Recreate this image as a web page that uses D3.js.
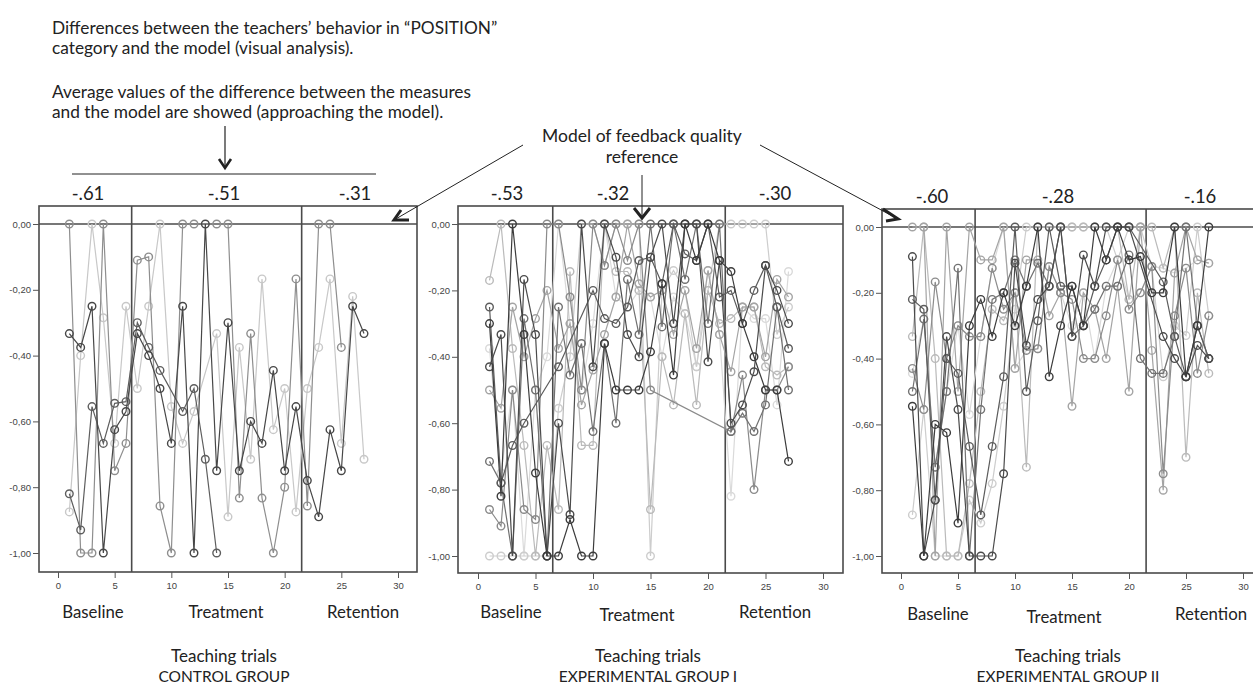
<!DOCTYPE html>
<html>
<head>
<meta charset="utf-8">
<script src="https://cdn.jsdelivr.net/npm/d3@7"></script>
<style>
  body { margin: 0; background: #fff; }
  svg { display: block; font-family: Lato, "Open Sans", sans-serif; }
  .tick text { font-family: "Liberation Sans", Arial, sans-serif; font-size: 9.5px; fill: #444; }
  .tick line { stroke: #555; }
</style>
</head>
<body>
<svg id="chart" width="1253" height="684"></svg>
<script>
// trial numbers on the x axis
let trials = [1, 2, 3, 4, 5, 6, 7, 8, 9, 10, 11, 12, 13, 14, 15, 16, 17, 18, 19, 20, 21, 22, 23, 24, 25, 26, 27];

// CONTROL GROUP: one row per teacher, lightest first
let controlSeries = [
    [-0.875, -0.40, 0, -0.285, -0.667, -0.25, -0.50, -0.25, 0, -0.555, -0.667, -0.57, null, -0.333, -0.89, -0.375, -0.715, -0.167, -0.625, -0.50, -0.875, -0.50, -0.375, -0.167, -0.667, -0.22, -0.715],
    [0, -1.0, -1.0, 0, -0.75, -0.667, -0.11, -0.10, -0.857, -1.0, 0, 0, null, 0, 0, -0.833, -0.333, -0.833, -1.0, -0.80, -0.167, -0.857, 0, 0, -0.375, null, null],
    [-0.82, -0.93, -0.555, -0.667, -0.545, -0.54, -0.30, -0.375, -0.445, null, -0.57, -0.50, -0.715, -1.0, null, null, null, null, null, null, null, null, null, null, null, null, null],
    [-0.333, -0.375, -0.25, -1.0, -0.625, -0.57, -0.333, -0.40, -0.50, -0.667, -0.25, -1.0, 0, -0.75, -0.30, -0.75, -0.60, -0.667, -0.445, -0.75, -0.555, -0.78, -0.89, -0.625, -0.75, -0.25, -0.333]
];
let controlShades = ['#c8c8c8', '#8e8e8e', '#5e5e5e', '#474747'];

// EXPERIMENTAL GROUP I
let exp1Series = [
    [-0.375, -0.75, -0.5, -1.0, -0.50, -0.40, 0, -0.30, -0.5, -0.3, 0, -0.22, -0.25, -0.2, -0.22, -0.40, -0.22, -0.27, -0.43, -0.14, -0.333, -0.82, -0.25, -0.285, -0.285, -0.545, -0.143],
    [-1.0, -1.0, -1.0, -1.0, -1.0, -1.0, -0.555, -0.40, 0, 0, -0.125, 0, 0, 0, -1.0, -0.20, -0.14, -0.20, -0.43, -0.20, 0, 0, 0, 0, 0, -0.333, -0.25],
    [-0.17, 0, -0.375, -0.667, -1.0, -0.667, -0.86, -0.143, -0.667, -0.667, 0, -0.143, -0.143, -0.20, -0.86, -0.40, -0.545, -0.27, -0.545, -0.20, -0.30, -0.285, -0.25, -0.25, -0.43, -0.455, -0.43],
    [-0.5, -0.555, -0.25, -0.40, -0.285, -0.20, -0.375, -0.30, -0.545, -0.44, -0.333, -0.22, 0, -0.18, -0.22, -0.20, -0.333, -0.20, -0.375, -0.14, -0.333, -0.445, -0.25, -0.25, -0.40, -0.167, -0.22],
    [-0.86, -0.91, -0.5, -0.86, -0.89, 0, 0, -0.22, -0.50, 0, -0.125, 0, -0.11, 0, -0.50, null, null, null, null, null, null, -0.625, -0.455, -0.80, -0.50, -0.50, -0.43],
    [-0.715, -0.78, -1.0, -0.285, -0.50, -1.0, -0.25, -0.455, -0.36, -0.625, -0.36, -0.60, -0.167, -0.333, 0, -0.31, 0, -0.167, 0, -0.30, 0, -0.625, -0.57, -0.625, -0.545, -0.25, -0.50],
    [-0.25, -0.78, -0.667, -0.60, null, null, -0.43, null, null, -0.20, -0.285, -0.30, -0.25, -0.11, -0.10, -0.18, 0, -0.09, -0.11, 0, -0.22, -0.20, -0.30, -0.20, -0.125, -0.25, -0.375],
    [-0.43, -0.333, -1.0, -0.167, -0.333, -1.0, -0.60, -0.875, 0, -0.43, 0, -0.10, -0.333, -0.40, -0.10, 0, -0.30, 0, 0, -0.415, -0.11, -0.60, -0.545, -0.445, -0.125, -0.20, -0.30],
    [-0.30, -0.82, 0, -0.333, -0.75, -1.0, -1.0, -0.89, -1.0, -1.0, -0.36, -0.50, -0.50, -0.50, -0.385, -0.18, -0.455, 0, -0.11, 0, -0.11, -0.143, -0.30, -0.40, -0.50, -0.50, -0.715]
];
let exp1Shades = ['#dadada', '#cdcdcd', '#bababa', '#a4a4a4', '#8a8a8a', '#707070', '#5c5c5c', '#4b4b4b', '#3c3c3c'];

// EXPERIMENTAL GROUP II
let exp2Series = [
    [-0.445, -0.28, -0.73, -0.50, -0.30, -0.57, -0.333, -0.125, 0, -0.43, -0.375, -0.37, -0.12, -0.20, -0.30, -0.20, -0.40, -0.18, -0.10, -0.22, -0.20, -0.12, -0.125, -0.14, -0.125, -0.10, -0.11],
    [-0.875, -0.555, -1.0, -1.0, -1.0, -0.83, -0.90, -0.78, -0.545, -0.25, 0, 0, 0, 0, 0, 0, 0, 0, -0.10, 0, 0, -0.12, -0.455, -0.30, -0.33, 0, -0.27],
    [-0.333, 0, -0.40, -1.0, -1.0, -0.78, -0.50, -0.25, -0.285, -0.20, -0.73, 0, 0, 0, 0, 0, 0, 0, 0, -0.22, 0, 0, -0.125, 0, -0.70, -0.20, -0.445],
    [0, 0, -1.0, 0, -0.50, 0, -0.10, -0.10, 0, -0.43, -0.10, -0.10, -0.27, -0.20, -0.545, -0.20, -0.25, -0.40, -0.18, -0.50, 0, -0.375, -0.80, -0.14, 0, -0.10, -0.11],
    [-0.43, -0.555, -0.167, -0.40, -0.30, -0.333, -0.333, -0.125, -0.25, -0.20, -0.375, -0.37, -0.12, -0.20, -0.22, -0.40, -0.40, -0.27, -0.10, -0.25, -0.20, -0.12, -0.75, -0.27, -0.125, -0.445, -0.27],
    [-0.50, -0.28, -0.73, -0.50, -0.125, -1.0, -0.555, -0.22, -0.20, -0.10, -0.18, -0.11, -0.18, 0, -0.333, -0.30, -0.25, -0.18, -0.18, -0.085, -0.40, -0.445, -0.445, -0.333, 0, -0.30, -0.40],
    [-0.22, -0.25, -0.83, -0.40, -0.445, -0.667, -0.875, -0.667, -0.455, 0, -0.50, -0.285, 0, -0.18, -0.18, -0.30, -0.18, -0.10, 0, 0, null, null, -0.167, -0.333, -0.455, -0.30, -0.40],
    [-0.09, -1.0, -0.83, -0.333, -0.555, -1.0, -1.0, -1.0, -0.75, -0.11, -0.36, -0.22, -0.18, 0, -0.333, -0.085, -0.18, 0, null, 0, null, null, -0.333, -0.40, -0.455, -0.36, -0.40],
    [-0.545, -1.0, -0.60, -0.625, -0.90, -0.30, -0.22, -0.333, -0.20, -0.30, -0.18, 0, -0.455, -0.30, -0.18, -0.30, 0, -0.10, 0, -0.10, -0.09, -0.20, -0.20, 0, -0.455, -0.30, 0]
];
let exp2Shades = ['#dadada', '#cdcdcd', '#bababa', '#a4a4a4', '#8c8c8c', '#727272', '#5c5c5c', '#4b4b4b', '#3c3c3c'];

// averages per phase, shown above each panel
let controlMeans = ['-.61', '-.51', '-.31'];
let exp1Means = ['-.53', '-.32', '-.30'];
let exp2Means = ['-.60', '-.28', '-.16'];

let phaseNames = ['Baseline', 'Treatment', 'Retention'];
let phaseBreaks = [6.5, 21.5];
let groupNames = ['CONTROL GROUP', 'EXPERIMENTAL GROUP I', 'EXPERIMENTAL GROUP II'];
let xTicks = [0, 5, 10, 15, 20, 25, 30];
let yTicks = [0, -0.2, -0.4, -0.6, -0.8, -1.0];

let svg = d3.select('#chart');

// panel layout in pixels
let panels = [
    { series: controlSeries, shades: controlShades, means: controlMeans, group: groupNames[0],
      x0: 58, x30: 398, y0: 224, y1: 553, left: 39, right: 417, top: 206, bottom: 572,
      meanX: [88, 224, 355], meanY: 200, phaseX: [93, 226, 363], phaseY: [618, 618, 618], groupX: 224 },
    { series: exp1Series, shades: exp1Shades, means: exp1Means, group: groupNames[1],
      x0: 478, x30: 823, y0: 224, y1: 556, left: 458, right: 843, top: 206, bottom: 573,
      meanX: [507, 613, 775], meanY: 200, phaseX: [511, 637, 775], phaseY: [618, 621, 618], groupX: 648 },
    { series: exp2Series, shades: exp2Shades, means: exp2Means, group: groupNames[2],
      x0: 901, x30: 1243, y0: 227, y1: 556, left: 882, right: 1270, top: 209, bottom: 573,
      meanX: [932, 1058, 1200], meanY: 203, phaseX: [938, 1064, 1211], phaseY: [620, 623, 620], groupX: 1068 }
];

let drawPanel = (p) => {
    let x = d3.scaleLinear().domain([0, 30]).range([p.x0, p.x30]);
    let y = d3.scaleLinear().domain([-1, 0]).range([p.y1, p.y0]);
    let g = svg.append('g');

    // frame
    g.append('rect')
        .attr('x', p.left).attr('y', p.top)
        .attr('width', p.right - p.left).attr('height', p.bottom - p.top)
        .attr('fill', 'none').attr('stroke', '#4a4a4a').attr('stroke-width', 1.6);

    // axes
    g.append('g')
        .attr('transform', `translate(${p.left},0)`)
        .call(d3.axisLeft(y).tickValues(yTicks).tickSize(6).tickPadding(2)
            .tickFormat((d) => d3.format('.2f')(d).replace('.', ',').replace('−', '-')))
        .call((a) => a.select('.domain').remove());
    g.append('g')
        .attr('transform', `translate(0,${p.bottom})`)
        .call(d3.axisBottom(x).tickValues(xTicks).tickSize(6).tickPadding(4))
        .call((a) => a.select('.domain').remove());

    // model reference line and phase dividers
    g.append('line')
        .attr('x1', p.left).attr('x2', p.right)
        .attr('y1', y(0)).attr('y2', y(0))
        .attr('stroke', '#4a4a4a').attr('stroke-width', 1.6);
    g.selectAll('.divider')
        .data(phaseBreaks)
        .enter()
        .append('line')
        .attr('x1', (d) => x(d)).attr('x2', (d) => x(d))
        .attr('y1', p.top).attr('y2', p.bottom)
        .attr('stroke', '#4a4a4a').attr('stroke-width', 1.6);

    // teacher lines, lightest first so dark ones sit on top
    let line = d3.line()
        .x((d) => x(d.t))
        .y((d) => y(d.v));

    p.series.forEach((values, i) => {
        let pts = trials.map((t, j) => ({ t: t, v: values[j] })).filter((d) => d.v !== null);
        g.append('path')
            .datum(pts)
            .attr('fill', 'none')
            .attr('stroke', p.shades[i])
            .attr('stroke-width', 1.2)
            .attr('d', line);
        g.selectAll(null)
            .data(pts)
            .enter()
            .append('circle')
            .attr('cx', (d) => x(d.t))
            .attr('cy', (d) => y(d.v))
            .attr('r', 3.8)
            .attr('fill', 'none')
            .attr('stroke', p.shades[i])
            .attr('stroke-width', 1.4);
    });

    // phase averages
    g.selectAll('.mean')
        .data(p.means)
        .enter()
        .append('text')
        .attr('x', (d, i) => p.meanX[i])
        .attr('y', p.meanY)
        .attr('text-anchor', 'middle')
        .attr('font-size', 18.5)
        .attr('fill', '#222')
        .text((d) => d);

    // phase names
    g.selectAll('.phase')
        .data(phaseNames)
        .enter()
        .append('text')
        .attr('x', (d, i) => p.phaseX[i])
        .attr('y', (d, i) => p.phaseY[i])
        .attr('text-anchor', 'middle')
        .attr('font-size', 16.8)
        .attr('fill', '#222')
        .text((d) => d);

    g.append('text')
        .attr('x', p.groupX).attr('y', 662)
        .attr('text-anchor', 'middle').attr('font-size', 17).attr('fill', '#222')
        .text('Teaching trials');
    g.append('text')
        .attr('x', p.groupX).attr('y', 682)
        .attr('text-anchor', 'middle').attr('font-size', 15.5).attr('fill', '#222')
        .text(p.group);
};

panels.forEach(drawPanel);

// header notes
let notes = [
    { text: 'Differences between the teachers\u2019 behavior in \u201cPOSITION\u201d', y: 34 },
    { text: 'category and the model (visual analysis).', y: 54 },
    { text: 'Average values of the difference between the measures', y: 98 },
    { text: 'and the model are showed (approaching the model).', y: 118 }
];
svg.selectAll('.note')
    .data(notes)
    .enter()
    .append('text')
    .attr('x', 52)
    .attr('y', (d) => d.y)
    .attr('font-size', 17.3)
    .attr('fill', '#222')
    .text((d) => d.text);

svg.append('text').attr('x', 642).attr('y', 142).attr('text-anchor', 'middle')
    .attr('font-size', 17.5).attr('fill', '#222').text('Model of feedback quality');
svg.append('text').attr('x', 642).attr('y', 163).attr('text-anchor', 'middle')
    .attr('font-size', 17.5).attr('fill', '#222').text('reference');

// annotation arrows
let ann = svg.append('g').attr('fill', 'none').attr('stroke', '#222');

// bracket above control group treatment with down arrow
ann.append('line').attr('x1', 72).attr('x2', 376).attr('y1', 174).attr('y2', 174).attr('stroke-width', 1);
ann.append('line').attr('x1', 225).attr('x2', 225).attr('y1', 126).attr('y2', 168).attr('stroke-width', 1.2);
ann.append('path').attr('d', 'M219,159 L225,168 L231,159').attr('stroke-width', 2.6);

// model -> centre panel
ann.append('line').attr('x1', 642).attr('x2', 642).attr('y1', 175).attr('y2', 218).attr('stroke-width', 1);
ann.append('path').attr('d', 'M634,208 L642,218 L650,208').attr('stroke-width', 3);

// model -> left panel
ann.append('line').attr('x1', 523).attr('y1', 145).attr('x2', 394).attr('y2', 220).attr('stroke-width', 1);
ann.append('path').attr('d', 'M401,210 L394,220 L409,220').attr('stroke-width', 3);

// model -> right panel
ann.append('line').attr('x1', 760).attr('y1', 145).attr('x2', 898).attr('y2', 219).attr('stroke-width', 1);
ann.append('path').attr('d', 'M883,209 L898,219 L886,221').attr('stroke-width', 3);
</script>
</body>
</html>
